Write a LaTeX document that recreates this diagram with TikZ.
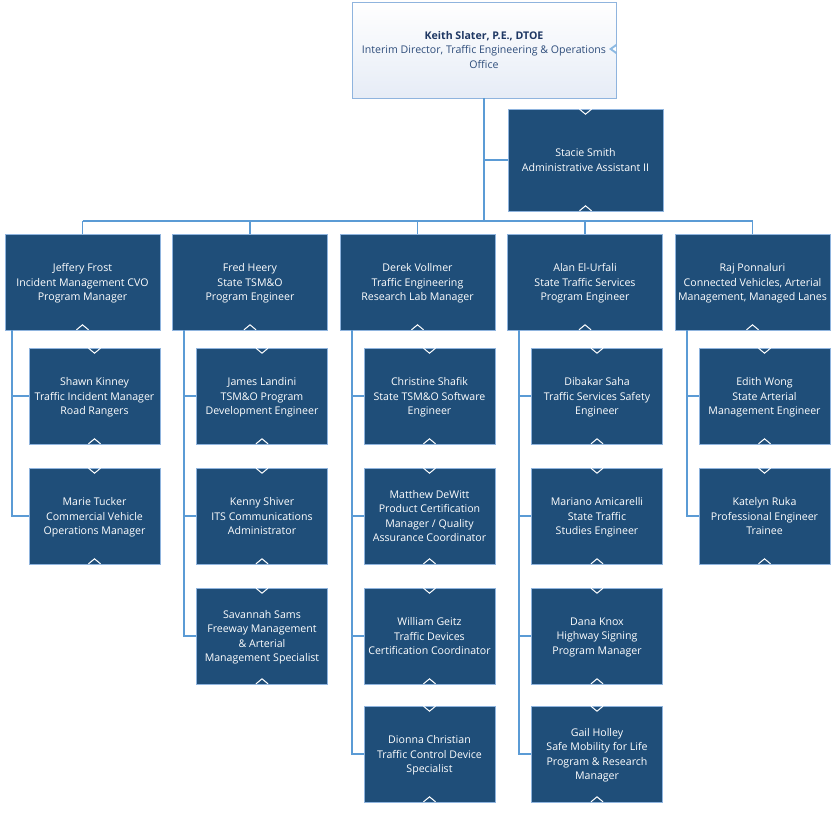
\documentclass[tikz,border=0pt]{standalone}
\usepackage{fontspec}
\setmainfont{Open Sans}
\definecolor{boxblue}{HTML}{1F4E79}
\definecolor{edgeblue}{HTML}{8FB4DE}
\definecolor{connblue}{HTML}{5B9BD5}
\definecolor{titleblue}{HTML}{1F3864}
\definecolor{subblue}{HTML}{2E4D7B}
\definecolor{topfill}{HTML}{E6ECF6}
\begin{document}
\begin{tikzpicture}[x=1pt,y=-1pt,
  box/.style={rectangle, fill=boxblue, draw=edgeblue, line width=0.6pt, text=white,
    inner sep=0pt, align=center, font=\fontsize{10.6}{14.6}\selectfont},
  headbox/.style={box, minimum width=155pt, minimum height=96pt, text depth=-2pt},
  subbox/.style={box, minimum width=131pt, minimum height=96pt, text depth=-2pt},
  conn/.style={draw=connblue, line width=1.4pt},
  chev/.style={draw=white, line width=1pt}]
\useasboundingbox (0,0) rectangle (837,812);

% top box
\node[rectangle, draw=edgeblue, line width=0.8pt, top color=white, bottom color=topfill,
  minimum width=264pt, minimum height=96pt, inner sep=0pt, align=center,
  font=\fontsize{10.6}{14.6}\selectfont, text=subblue] (keith) at (484,50)
  {\textcolor{titleblue}{\textbf{Keith Slater, P.E., DTOE}}\\Interim Director, Traffic Engineering \& Operations\\Office};
\fill[connblue!70] (616,44) -- (609,49) -- (616,54) -- cycle;
\fill[white] (616,46.5) -- (612.5,49) -- (616,51.5) -- cycle;

\node[box, minimum width=155pt, minimum height=102pt, text depth=0pt] (stacie) at (585.5,160)
  {Stacie Smith\\Administrative Assistant II};

% top-level
\node[headbox] (jeff) at (82.5,282) {Jeffery Frost\\Incident Management CVO\\Program Manager};
\node[headbox] (fred) at (250,282) {Fred Heery\\State TSM\&O\\Program Engineer};
\node[headbox] (derek) at (417.5,282) {Derek Vollmer\\Traffic Engineering\\Research Lab Manager};
\node[headbox] (alan) at (585,282) {Alan El-Urfali\\State Traffic Services\\Program Engineer};
\node[headbox] (raj) at (752.5,282) {Raj Ponnaluri\\Connected Vehicles, Arterial\\Management, Managed Lanes};

% children
\node[subbox] (shawn) at (94.5,396) {Shawn Kinney\\Traffic Incident Manager\\Road Rangers};
\node[subbox] (marie) at (94.5,516) {Marie Tucker\\Commercial Vehicle\\Operations Manager};

\node[subbox] (james) at (262,396) {James Landini\\TSM\&O Program\\Development Engineer};
\node[subbox] (kenny) at (262,516) {Kenny Shiver\\ITS Communications\\Administrator};
\node[subbox] (savannah) at (262,636) {Savannah Sams\\Freeway Management\\\& Arterial\\Management Specialist};

\node[subbox] (christine) at (429.5,396) {Christine Shafik\\State TSM\&O Software\\Engineer};
\node[subbox] (matthew) at (429.5,516) {Matthew DeWitt\\Product Certification\\Manager / Quality\\Assurance Coordinator};
\node[subbox] (william) at (429.5,636) {William Geitz\\Traffic Devices\\Certification Coordinator};
\node[subbox] (dionna) at (429.5,754) {Dionna Christian\\Traffic Control Device\\Specialist};

\node[subbox] (dibakar) at (597,396) {Dibakar Saha\\Traffic Services Safety\\Engineer};
\node[subbox] (mariano) at (597,516) {Mariano Amicarelli\\State Traffic\\Studies Engineer};
\node[subbox] (dana) at (597,636) {Dana Knox\\Highway Signing\\Program Manager};
\node[subbox] (gail) at (597,754) {Gail Holley\\Safe Mobility for Life\\Program \& Research\\Manager};

\node[subbox] (edith) at (764.5,396) {Edith Wong\\State Arterial\\Management Engineer};
\node[subbox] (katelyn) at (764.5,516) {Katelyn Ruka\\Professional Engineer\\Trainee};

% connectors
\coordinate (busM) at (484,221);
\coordinate (busL) at (82.5,221);
\coordinate (busR) at (752.5,221);
\draw[conn] (keith.south) -- (busM);
\draw[conn] (keith.south |- stacie.west) -- (stacie.west);
\draw[conn] (busL) -- (busR);
\foreach \t in {jeff,fred,derek,alan,raj}
  \draw[conn] (\t.north |- busM) -- (\t.north);

\coordinate (s1) at (12,330);
\coordinate (s2) at (184,330);
\coordinate (s3) at (352,330);
\coordinate (s4) at (519,330);
\coordinate (s5) at (687,330);
\draw[conn] (s1) |- (marie.west);
\draw[conn] (s1) |- (shawn.west);
\draw[conn] (s2) |- (savannah.west);
\draw[conn] (s2) |- (james.west);
\draw[conn] (s2) |- (kenny.west);
\draw[conn] (s3) |- (dionna.west);
\draw[conn] (s3) |- (christine.west);
\draw[conn] (s3) |- (matthew.west);
\draw[conn] (s3) |- (william.west);
\draw[conn] (s4) |- (gail.west);
\draw[conn] (s4) |- (dibakar.west);
\draw[conn] (s4) |- (mariano.west);
\draw[conn] (s4) |- (dana.west);
\draw[conn] (s5) |- (katelyn.west);
\draw[conn] (s5) |- (edith.west);

% expand markers
\foreach \n in {stacie,shawn,marie,james,kenny,savannah,christine,matthew,william,dionna,dibakar,mariano,dana,gail,edith,katelyn}
  \draw[chev] ([shift={(-6,0.5)}]\n.north) -- ([shift={(0,5.5)}]\n.north) -- ([shift={(6,0.5)}]\n.north);
\foreach \n in {stacie,jeff,fred,derek,alan,raj,shawn,marie,james,kenny,savannah,christine,matthew,william,dionna,dibakar,mariano,dana,gail,edith,katelyn}
  \draw[chev] ([shift={(-6,-0.5)}]\n.south) -- ([shift={(0,-5.5)}]\n.south) -- ([shift={(6,-0.5)}]\n.south);
\end{tikzpicture}
\end{document}
